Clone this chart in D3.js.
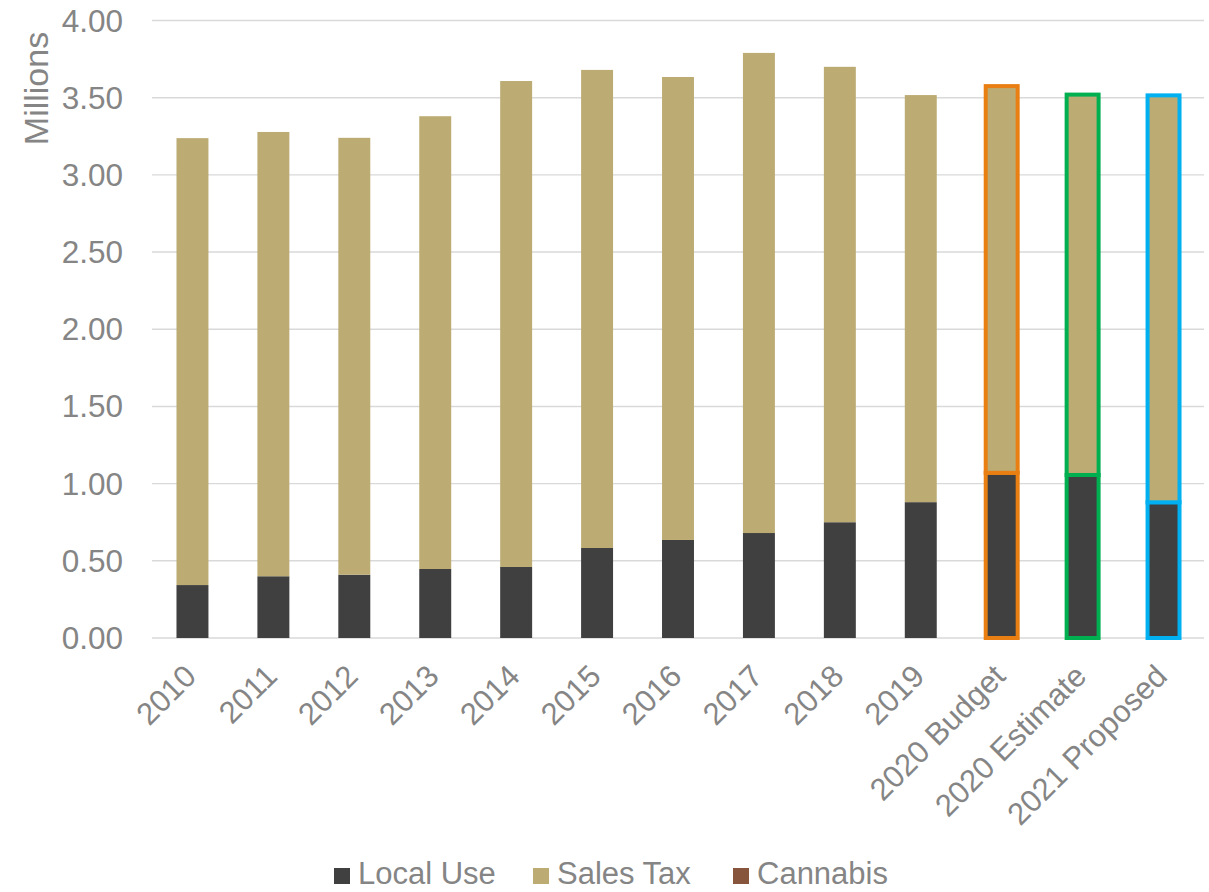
<!DOCTYPE html>
<html>
<head>
<meta charset="utf-8">
<script src="https://cdn.jsdelivr.net/npm/d3@7"></script>
<style>
  html, body { margin: 0; padding: 0; background: #fff; }
  svg { display: block; font-family: "Liberation Sans", Arial, sans-serif; }
</style>
</head>
<body>
<svg id="chart" width="1209" height="892"></svg>
<script>
// Revenue by source, in millions
const categories = ["2010", "2011", "2012", "2013", "2014", "2015", "2016", "2017", "2018", "2019",
                    "2020 Budget", "2020 Estimate", "2021 Proposed"];
const localUse = [0.343, 0.400, 0.410, 0.447, 0.460, 0.583, 0.635, 0.680, 0.750, 0.880, 1.070, 1.056, 0.879];
const salesTax = [2.895, 2.878, 2.830, 2.933, 3.148, 3.097, 2.999, 3.110, 2.950, 2.637, 2.505, 2.464, 2.636];
const cannabis = [0, 0, 0, 0, 0, 0, 0, 0, 0, 0, 0, 0, 0];
const yTicks = [0, 0.5, 1.0, 1.5, 2.0, 2.5, 3.0, 3.5, 4.0];

// Budget-cycle columns get a coloured outline
const outlineColors = { "2020 Budget": "#E97F12", "2020 Estimate": "#00AF50", "2021 Proposed": "#00B0F0" };

const seriesNames = ["Local Use", "Sales Tax", "Cannabis"];
const seriesColors = ["#404040", "#BCAC74", "#87553B"];

const textColor = "#858585";
const gridColor = "#D9D9D9";

const svg = d3.select("#chart");
const margin = { left: 152, right: 5, top: 20.5, bottom: 254 };
const W = 1209, H = 892;

const x = d3.scaleBand()
  .domain(categories)
  .range([margin.left, W - margin.right])
  .paddingInner(0.605)
  .paddingOuter(0.3025);

const y = d3.scaleLinear()
  .domain([0, 4])
  .range([H - margin.bottom, margin.top]);

// Gridlines
svg.append("g")
  .selectAll("line")
  .data(yTicks)
  .join("line")
  .attr("x1", margin.left)
  .attr("x2", W - margin.right)
  .attr("y1", d => y(d))
  .attr("y2", d => y(d))
  .attr("stroke", gridColor)
  .attr("stroke-width", 1.4);

// Y tick labels
svg.append("g")
  .selectAll("text")
  .data(yTicks)
  .join("text")
  .attr("x", 123)
  .attr("y", d => y(d))
  .attr("dy", "0.35em")
  .attr("text-anchor", "end")
  .attr("font-size", 31.5)
  .attr("fill", textColor)
  .text(d => d3.format(".2f")(d));

// Y axis title
svg.append("text")
  .attr("transform", "translate(36,88.5) rotate(-90)")
  .attr("text-anchor", "middle")
  .attr("dy", "0.35em")
  .attr("font-size", 34)
  .attr("fill", textColor)
  .text("Millions");

// Stacked data
const rows = categories.map((c, i) => ({
  category: c, "Local Use": localUse[i], "Sales Tax": salesTax[i], "Cannabis": cannabis[i]
}));
const stack = d3.stack().keys(seriesNames)(rows);

const bars = svg.append("g");
stack.forEach((layer, li) => {
  bars.append("g")
    .selectAll("rect")
    .data(layer.filter(d => d[1] - d[0] > 0))
    .join("rect")
    .attr("x", d => x(d.data.category))
    .attr("width", x.bandwidth())
    .attr("y", d => y(d[1]))
    .attr("height", d => y(d[0]) - y(d[1]))
    .attr("fill", seriesColors[li])
    .attr("stroke", d => outlineColors[d.data.category] || "none")
    .attr("stroke-width", d => outlineColors[d.data.category] ? 4 : 0);
});

// X category labels, rotated
svg.append("g")
  .selectAll("text")
  .data(categories)
  .join("text")
  .attr("transform", d => `translate(${x(d) + x.bandwidth() / 2 + 5.5},678) rotate(-45)`)
  .attr("text-anchor", "end")
  .attr("font-size", 31)
  .attr("fill", textColor)
  .text(d => d);

// Legend along the bottom edge
const legendItems = [
  { name: "Local Use", color: seriesColors[0], sx: 334 },
  { name: "Sales Tax", color: seriesColors[1], sx: 533 },
  { name: "Cannabis", color: seriesColors[2], sx: 733 }
];
const legend = svg.append("g");
legendItems.forEach(item => {
  legend.append("rect")
    .attr("x", item.sx)
    .attr("y", 868)
    .attr("width", 16)
    .attr("height", 16)
    .attr("fill", item.color);
  legend.append("text")
    .attr("x", item.sx + 24)
    .attr("y", 884)
    .attr("font-size", 31)
    .attr("fill", textColor)
    .text(item.name);
});
</script>
</body>
</html>
